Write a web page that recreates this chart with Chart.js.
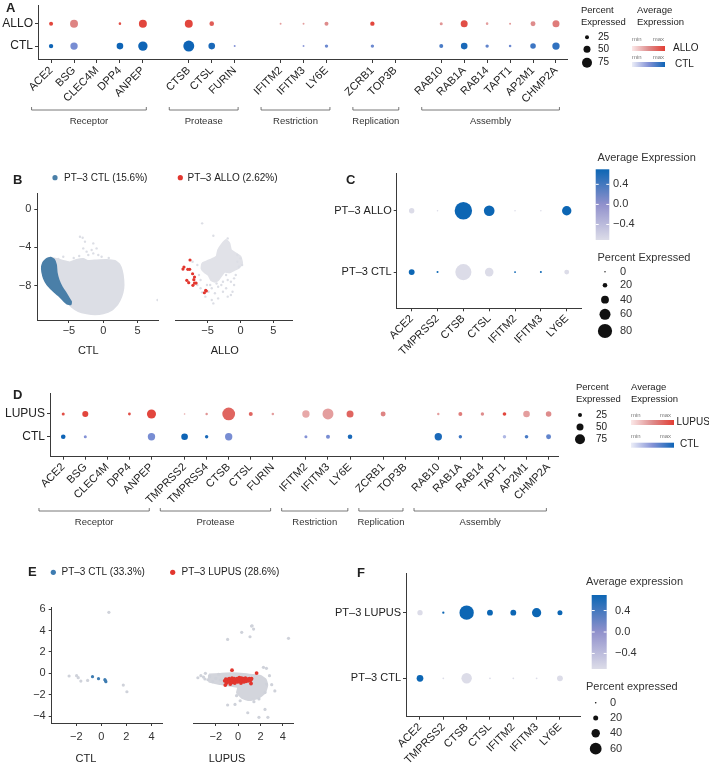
<!DOCTYPE html>
<html lang="en">
<head>
<meta charset="utf-8">
<title>SARS-CoV-2 entry factors</title>
<script src="https://cdn.jsdelivr.net/npm/chart.js"></script>
<style>
  html, body { margin: 0; padding: 0; background: #fff; }
  #fig { position: relative; width: 709px; height: 768px; overflow: hidden; }
  #fig canvas { position: absolute; }
</style>
</head>
<body>
<div id="fig">
  <canvas id="panelA" width="709" height="130" style="left:0px;top:0px"></canvas>
  <canvas id="panelBctl" width="330" height="215" style="left:0px;top:150px"></canvas>
  <canvas id="panelBallo" width="165" height="215" style="left:165px;top:150px"></canvas>
  <canvas id="panelC" width="379" height="225" style="left:330px;top:145px"></canvas>
  <canvas id="panelD" width="709" height="155" style="left:0px;top:380px"></canvas>
  <canvas id="panelEctl" width="330" height="208" style="left:0px;top:560px"></canvas>
  <canvas id="panelElupus" width="160" height="208" style="left:170px;top:560px"></canvas>
  <canvas id="panelF" width="379" height="208" style="left:330px;top:560px"></canvas>
</div>
<script>
// ---------------- data ----------------
const groupNames = ['Receptor', 'Protease', 'Restriction', 'Replication', 'Assembly'];

// A: ALLO vs CTL
const genesA = [
  ['ACE2', 'BSG', 'CLEC4M', 'DPP4', 'ANPEP'],
  ['CTSB', 'CTSL', 'FURIN'],
  ['IFITM2', 'IFITM3', 'LY6E'],
  ['ZCRB1', 'TOP3B'],
  ['RAB10', 'RAB1A', 'RAB14', 'TAPT1', 'AP2M1', 'CHMP2A']
];
// percent expressed (null = no dot) and scaled average expression (0 = min, 1 = max)
const pctA_allo = [25, 58, null, 13, 58, 58, 30, null, 8, 8, 25, 28, null, 17, 50, 13, 8, 33, 50];
const avgA_allo = [0.95, 0.55, null, 0.9, 0.95, 0.95, 0.8, null, 0.4, 0.4, 0.5, 0.95, null, 0.45, 0.9, 0.4, 0.45, 0.5, 0.6];
const pctA_ctl = [28, 53, null, 47, 70, 83, 47, 8, null, 8, 20, 20, null, 25, 47, 20, 13, 38, 53];
const avgA_ctl = [1.0, 0.55, null, 1.0, 1.0, 1.0, 0.95, 0.5, null, 0.45, 0.6, 0.6, null, 0.75, 0.95, 0.65, 0.6, 0.8, 0.85];

// D: LUPUS vs CTL
const genesD = [
  ['ACE2', 'BSG', 'CLEC4M', 'DPP4', 'ANPEP'],
  ['TMPRSS2', 'TMPRSS4', 'CTSB', 'CTSL', 'FURIN'],
  ['IFITM2', 'IFITM3', 'LY6E'],
  ['ZCRB1', 'TOP3B'],
  ['RAB10', 'RAB1A', 'RAB14', 'TAPT1', 'AP2M1', 'CHMP2A']
];
const pctD_lupus = [17, 42, null, 15, 67, 5, 12, 98, 25, 13, 53, 83, 50, 33, null, 12, 25, 20, 22, 47, 38];
const avgD_lupus = [0.9, 0.95, null, 0.9, 0.95, 0.35, 0.45, 0.75, 0.75, 0.4, 0.35, 0.4, 0.75, 0.55, null, 0.4, 0.6, 0.5, 0.95, 0.4, 0.5];
const pctD_ctl = [30, 17, null, null, 53, 47, 20, 53, null, null, 17, 25, 30, null, null, 53, 20, null, 20, 22, 33];
const avgD_ctl = [1.0, 0.5, null, null, 0.55, 1.0, 0.95, 0.55, null, null, 0.5, 0.55, 0.95, null, null, 0.95, 0.8, null, 0.3, 0.75, 0.65];

// C and F: PT-3 cluster
const genesCF = ['ACE2', 'TMPRSS2', 'CTSB', 'CTSL', 'IFITM2', 'IFITM3', 'LY6E'];
const pctC_allo = [25, 1, 100, 58, 1, 1, 50];
const avgC_allo = [-0.71, -0.71, 0.71, 0.71, -0.71, -0.71, 0.71];
const pctC_ctl = [28, 4, 92, 45, 3, 4, 22];
const avgC_ctl = [0.71, 0.71, -0.71, -0.71, 0.71, 0.71, -0.71];
const pctF_lupus = [22, 4, 75, 25, 25, 45, 20];
const avgF_lupus = [-0.71, 0.71, 0.71, 0.71, 0.71, 0.71, 0.71];
const pctF_ctl = [30, 1, 52, 1, 1, 1, 25];
const avgF_ctl = [0.71, -0.71, -0.71, -0.71, -0.71, -0.71, -0.71];
const avgTicks = [0.4, 0.0, -0.4];
const pctLegendAD = [25, 50, 75];
const pctLegendC = [0, 20, 40, 60, 80];
const pctLegendF = [0, 20, 40, 60];

// B: UMAP coordinates
const bTicksX = [-5, 0, 5];
const bTicksY = [0, -4, -8];
const bCtlCloud = [[-8.73,-5.56],[-7.76,-5.07],[-6.79,-5.21],[-5.82,-5.42],[-4.85,-5.56],[-3.88,-5.31],[-2.91,-5.21],[-2.18,-5.42],[-0.97,-5.35],[0.49,-5.31],[1.70,-5.42],[2.33,-5.76],[2.72,-6.46],[2.92,-7.40],[2.92,-8.26],[2.62,-9.13],[2.04,-9.93],[1.22,-10.52],[0.0,-10.87],[-1.21,-10.97],[-2.42,-10.87],[-3.63,-10.63],[-4.60,-10.17],[-5.33,-9.65],[-6.30,-8.96],[-7.27,-8.26],[-8.24,-7.57],[-8.73,-6.88],[-8.92,-6.18]];
const bCtlOther = [[-3.39,-2.88],[-3.00,-2.99],[-2.66,-3.40],[-1.45,-3.58],[-0.97,-4.10],[-1.69,-4.27],[-2.42,-4.44],[-2.18,-4.79],[-1.45,-4.62],[-0.72,-4.79],[-0.24,-4.97],[-2.91,-4.10],[-5.82,-4.97],[-6.55,-5.21],[-4.3,-5.1],[-3.5,-4.9],[0.8,-5.1],[7.9,-9.48]];
const bCtlPT3 = [[-8.73,-5.56],[-8.24,-5.21],[-7.66,-5.07],[-7.18,-5.28],[-6.88,-5.83],[-6.79,-6.60],[-6.50,-7.40],[-6.06,-8.09],[-5.53,-8.68],[-5.09,-9.20],[-4.70,-9.65],[-4.75,-9.93],[-5.24,-9.86],[-5.82,-9.48],[-6.55,-8.96],[-7.37,-8.44],[-8.15,-7.85],[-8.63,-7.22],[-8.87,-6.53],[-8.92,-6.01]];
const bAlloCore = [[-5.82,-5.66],[-4.60,-5.31],[-3.63,-4.97],[-3.39,-4.27],[-2.91,-3.75],[-2.18,-3.23],[-1.69,-3.58],[-1.45,-4.27],[-0.72,-4.62],[0.0,-4.97],[0.25,-5.66],[-0.24,-6.11],[-0.97,-6.35],[-1.69,-6.60],[-2.42,-6.53],[-2.91,-6.94],[-3.39,-7.40],[-3.88,-7.57],[-4.46,-7.40],[-4.85,-6.88],[-5.43,-6.60],[-5.91,-6.18]];
const bAlloOther = [[-9.6,2.1],[-5.82,-1.49],[-4.12,-2.78],[-1.94,-3.06],[-7.27,-5.49],[-6.55,-5.83],[-6.30,-6.88],[-6.06,-7.40],[-6.55,-7.92],[-6.06,-8.26],[-5.82,-8.68],[-5.09,-7.92],[-4.85,-8.61],[-4.36,-8.26],[-3.88,-8.78],[-3.39,-8.09],[-2.91,-7.92],[-2.66,-8.61],[-2.18,-8.26],[-1.94,-7.40],[-1.45,-7.57],[-0.97,-7.92],[-1.21,-8.61],[-0.72,-6.88],[-0.48,-5.49],[-0.24,-6.01],[-4.36,-9.48],[-4.12,-9.83],[-3.39,-9.31],[-1.94,-9.13],[-1.45,-8.96],[-5.33,-9.13],[-4.60,-7.92],[-2.18,-6.88],[-0.97,-7.22],[0.0,-5.14],[-0.48,-4.79],[0.25,-5.83],[-2.66,-7.57],[-3.63,-7.75]];
const bAlloPT3 = [[-7.66,-5.31],[-8.58,-6.04],[-8.73,-6.25],[-8.00,-6.28],[-7.71,-6.28],[-7.27,-6.74],[-6.98,-7.08],[-7.08,-7.36],[-8.15,-7.43],[-7.86,-7.67],[-7.22,-7.95],[-6.98,-7.71],[-6.74,-7.71],[-5.28,-8.47],[-5.48,-8.72],[-5.19,-8.54]];

// E: coordinates
const eTicksX = [-2, 0, 2, 4];
const eTicksY = [6, 4, 2, 0, -2, -4];
const eCtlOther = [[-2.58,-0.25],[-1.98,-0.22],[-1.85,-0.40],[-1.64,-0.72],[-1.10,-0.66],[0.60,5.70],[1.75,-1.10],[2.04,-1.72]];
const eCtlPT3 = [[-0.71,-0.31],[-0.23,-0.50],[0.28,-0.59],[0.36,-0.78],[0.32,-0.68]];
const eLupusBand = [[-2.6,-0.1],[-1.6,-0.05],[-0.5,0.0],[0.5,-0.05],[1.3,-0.15],[2.0,-0.25],[2.45,-0.55],[2.6,-1.1],[2.4,-1.8],[1.8,-2.3],[1.0,-2.5],[0.35,-2.3],[-0.1,-1.8],[0.0,-1.3],[-0.7,-1.15],[-1.6,-1.0],[-2.6,-0.75]];
const eLupusOther = [[-3.6,-0.41],[-3.33,-0.22],[-2.93,0.0],[-2.97,-0.53],[-2.54,-0.31],[-2.27,-0.78],[-2.0,-0.47],[-1.74,-0.09],[-1.6,-0.62],[-3.1,-0.35],[-2.7,-0.6],[1.25,4.45],[1.38,4.14],[1.2,4.42],[1.06,3.42],[0.32,3.83],[-0.94,3.17],[4.5,3.27],[2.26,0.56],[2.53,0.47],[2.8,-0.22],[-0.14,-2.09],[0.18,-2.56],[-0.94,-2.96],[1.41,-2.65],[1.86,-2.39],[2.4,-1.78],[3.28,-1.64],[0.86,-3.68],[2.4,-3.37],[1.86,-4.11],[2.66,-4.11],[2.53,-1.0],[3.0,-1.06],[-0.28,-2.9]];
const eLupusPT3 = [[-1.2,-0.7],[-1.1,-0.55],[-1.05,-0.9],[-1.15,-1.1],[-0.95,-0.6],[-0.9,-0.8],[-0.8,-0.5],[-0.75,-0.75],[-0.7,-1.0],[-0.6,-0.6],[-0.55,-0.45],[-0.5,-0.85],[-0.4,-0.65],[-0.35,-0.5],[-0.3,-0.9],[-0.2,-0.7],[-0.1,-0.5],[-0.05,-0.8],[0.05,-0.6],[0.1,-0.4],[0.15,-0.75],[0.2,-0.55],[0.25,-0.9],[0.3,-0.45],[0.35,-0.65],[0.45,-0.5],[0.5,-0.8],[0.55,-0.6],[0.65,-0.45],[0.7,-0.75],[0.8,-0.55],[0.9,-0.7],[1.0,-0.5],[1.1,-0.65],[1.2,-0.5],[1.15,-0.95],[-0.55,0.3],[1.65,0.03]];

// ---------------- helpers ----------------
const FONT = "'Liberation Sans', Arial, Helvetica, sans-serif";
Chart.defaults.font.family = FONT;
const INK = '#3a3a3a';
const TXT = '#222';

const RED = [[251, 232, 232], [222, 140, 140], [226, 62, 52]];
const BLUE = [[236, 238, 248], [132, 146, 214], [14, 100, 182]];
const GREYBLUE = [[220, 220, 232], [145, 145, 204], [12, 102, 180]];

const rgb = c => `rgb(${c.join(',')})`;
function mix(a, b, t) { return a.map((v, i) => Math.round(v + (b[i] - v) * t)); }
function grad3(stops, t) {
  t = Math.max(0, Math.min(1, t));
  return rgb(t < 0.5 ? mix(stops[0], stops[1], t * 2) : mix(stops[1], stops[2], (t - 0.5) * 2));
}
const colRed = v => grad3(RED, v);
const colBlue = v => grad3(BLUE, v);
const colCF = v => grad3(GREYBLUE, (v + 0.71) / 1.42);

const radiusAD = p => 0.5 + 0.06 * p;
const radiusC = p => 0.7 + 0.08 * p;
const radiusF = p => 0.8 + 0.085 * p;

const minus = v => String(v).replace('-', '\u2212');
const fmt1 = v => minus(v.toFixed(1));

function zeroPad(s) { s.paddingLeft = 0; s.paddingRight = 0; s.paddingTop = 0; s.paddingBottom = 0; }

function text(ctx, s, x, y, size, opt = {}) {
  ctx.font = `${opt.bold ? 'bold ' : ''}${size}px ${FONT}`;
  ctx.fillStyle = opt.color || TXT;
  ctx.textAlign = opt.align || 'left';
  ctx.textBaseline = 'middle';
  ctx.fillText(s, x, y);
}
function disc(ctx, x, y, r, color) {
  ctx.fillStyle = color;
  ctx.beginPath(); ctx.arc(x, y, r, 0, Math.PI * 2); ctx.fill();
}
// draw in page coordinates on top of a chart canvas
function overlay(off, fn) {
  return {
    id: 'overlay',
    afterDraw(chart) {
      const ctx = chart.ctx;
      ctx.save(); ctx.translate(-off[0], -off[1]);
      fn(ctx, chart, off);
      ctx.restore();
    }
  };
}

function groupedPositions(groups, gap) {
  const out = [];
  let x = 0;
  groups.forEach((g, gi) => {
    if (gi > 0) x += gap - 1;
    g.forEach(() => { out.push(x); x += 1; });
  });
  return out;
}

function drawBrackets(ctx, chart, off, groups, pos, y, padL, padR) {
  const xs = chart.scales.x;
  let k = 0;
  ctx.strokeStyle = '#555'; ctx.lineWidth = 0.8;
  groups.forEach((g, gi) => {
    const x0 = xs.getPixelForValue(pos[k] - padL) + off[0];
    const x1 = xs.getPixelForValue(pos[k + g.length - 1] + padR) + off[0];
    k += g.length;
    ctx.beginPath();
    ctx.moveTo(x0, y - 3); ctx.lineTo(x0, y); ctx.lineTo(x1, y); ctx.lineTo(x1, y - 3);
    ctx.stroke();
    text(ctx, groupNames[gi], (x0 + x1) / 2, y + 11, 9.5, { align: 'center', color: '#333' });
  });
}

function hbar(ctx, x0, y0, x1, y1, stops) {
  const g = ctx.createLinearGradient(x0, 0, x1, 0);
  g.addColorStop(0, rgb(stops[0])); g.addColorStop(0.5, rgb(stops[1])); g.addColorStop(1, rgb(stops[2]));
  ctx.fillStyle = g; ctx.fillRect(x0, y0, x1 - x0, y1 - y0);
}

function vbar(ctx, x0, y0, x1, y1, vmin, vmax, labelX) {
  const g = ctx.createLinearGradient(0, y1, 0, y0);
  g.addColorStop(0, rgb(GREYBLUE[0])); g.addColorStop(0.5, rgb(GREYBLUE[1])); g.addColorStop(1, rgb(GREYBLUE[2]));
  ctx.fillStyle = g; ctx.fillRect(x0, y0, x1 - x0, y1 - y0);
  ctx.strokeStyle = '#fff'; ctx.lineWidth = 1;
  avgTicks.forEach(v => {
    const y = y1 - (v - vmin) / (vmax - vmin) * (y1 - y0);
    ctx.beginPath(); ctx.moveTo(x0, y); ctx.lineTo(x0 + 3, y); ctx.moveTo(x1 - 3, y); ctx.lineTo(x1, y); ctx.stroke();
    text(ctx, fmt1(v), labelX, y, 11, { color: '#333' });
  });
}

function axisStyle() {
  return {
    grid: { display: true, drawOnChartArea: false, drawTicks: true, tickLength: 3, color: INK },
    border: { display: true, color: INK, width: 1 }
  };
}

// dot plot (bubble chart), area = [left, top, right, bottom] in page pixels
function dotPanel(id, off, area, o) {
  const cv = document.getElementById(id);
  const W = cv.width, H = cv.height;
  const L = area[0] - off[0], T = area[1] - off[1], R = area[2] - off[0], B = area[3] - off[1];
  const datasets = o.rows.map(row => {
    const data = [], colors = [];
    o.genes.forEach((g, i) => {
      if (row.pct[i] == null) return;
      data.push({ x: o.pos[i], y: row.y, r: o.radius(row.pct[i]) });
      colors.push(row.color(row.avg[i]));
    });
    return { data, backgroundColor: colors, borderWidth: 0, hoverRadius: 0, clip: false };
  });
  const rowName = {};
  o.rows.forEach(r => { rowName[r.y] = r.name; });
  return new Chart(cv, {
    type: 'bubble',
    data: { datasets },
    options: {
      responsive: false, animation: false, devicePixelRatio: 1, events: [],
      layout: { padding: { left: 0, top: T, right: W - R, bottom: 0 } },
      plugins: { legend: { display: false }, tooltip: { enabled: false } },
      scales: {
        x: Object.assign({
          type: 'linear', min: o.xMin, max: o.xMax,
          afterBuildTicks: s => { s.ticks = o.pos.map(v => ({ value: v })); },
          afterFit: s => { s.height = H - B; zeroPad(s); },
          ticks: { autoSkip: false, minRotation: 45, maxRotation: 45, padding: 1,
                   font: { size: 11 }, color: TXT, callback: (v, i) => o.genes[i] }
        }, axisStyle()),
        y: Object.assign({
          type: 'linear', min: o.yMin, max: o.yMax,
          afterBuildTicks: s => { s.ticks = o.rows.map(r => ({ value: r.y })); },
          afterFit: s => { s.width = L; zeroPad(s); },
          ticks: { padding: 2, font: { size: o.rowFont }, color: TXT, callback: v => rowName[v] }
        }, axisStyle())
      }
    },
    plugins: [overlay(off, o.draw)]
  });
}

// scatter panel
function scatterPanel(id, off, area, o) {
  const cv = document.getElementById(id);
  const W = cv.width, H = cv.height;
  const L = area[0] - off[0], T = area[1] - off[1], R = area[2] - off[0], B = area[3] - off[1];
  return new Chart(cv, {
    type: 'scatter',
    data: { datasets: o.datasets },
    options: {
      responsive: false, animation: false, devicePixelRatio: 1, events: [],
      layout: { padding: { left: o.yTicks ? 0 : L, top: T, right: W - R, bottom: 0 } },
      plugins: { legend: { display: false }, tooltip: { enabled: false } },
      scales: {
        x: Object.assign({
          type: 'linear', min: o.x[0], max: o.x[1],
          afterBuildTicks: s => { s.ticks = o.xTicks.map(v => ({ value: v })); },
          afterFit: s => { s.height = H - B; zeroPad(s); },
          ticks: { padding: o.tickPad, maxRotation: 0, font: { size: 11 }, color: '#333', callback: v => minus(v) }
        }, axisStyle()),
        y: Object.assign({
          type: 'linear', display: !!o.yTicks, min: o.y[0], max: o.y[1],
          afterBuildTicks: s => { s.ticks = (o.yTicks || []).map(v => ({ value: v })); },
          afterFit: s => { s.width = L; zeroPad(s); },
          ticks: { padding: 3, font: { size: 11 }, color: '#333', callback: v => minus(v) }
        }, axisStyle())
      }
    },
    plugins: o.draw ? [overlay(off, o.draw)] : []
  });
}

const toPts = arr => arr.map(([x, y]) => ({ x, y }));
function cloud(arr, color, order) {
  return { type: 'line', data: toPts(arr.concat([arr[0]])), fill: 'shape', backgroundColor: color,
           borderColor: color, borderWidth: 2, borderJoinStyle: 'round', pointRadius: 0, tension: 0.12, order };
}
function dots(arr, color, r, order, clip) {
  const d = { data: toPts(arr), backgroundColor: color, borderWidth: 0, pointRadius: r, order };
  if (clip === false) d.clip = false;
  return d;
}

// ---------------- A ----------------
const flatA = genesA.flat();
const posA = groupedPositions(genesA, 2);
dotPanel('panelA', [0, 0], [38, 5, 567, 60], {
  genes: flatA, pos: posA, radius: radiusAD, rowFont: 12,
  xMin: -0.57, xMax: posA[posA.length - 1] + 0.48, yMin: -0.62, yMax: 1.81,
  rows: [
    { name: 'ALLO', y: 1, pct: pctA_allo, avg: avgA_allo, color: colRed },
    { name: 'CTL', y: 0, pct: pctA_ctl, avg: avgA_ctl, color: colBlue }
  ],
  draw: (ctx, chart, off) => {
    text(ctx, 'A', 6, 8, 13, { bold: true });
    drawBrackets(ctx, chart, off, genesA, posA, 110, 0.85, 0.15);
    text(ctx, 'Percent', 581, 10.7, 9.5);
    text(ctx, 'Expressed', 581, 22.3, 9.5);
    [37.3, 49.3, 62.7].forEach((y, i) => {
      disc(ctx, 587, y, radiusAD(pctLegendAD[i]), '#111');
      text(ctx, String(pctLegendAD[i]), 598, y, 10);
    });
    text(ctx, 'Average', 637, 10.7, 9.5);
    text(ctx, 'Expression', 637, 22.3, 9.5);
    text(ctx, 'min', 632, 39.5, 6, { color: '#777' });
    text(ctx, 'max', 664, 39.5, 6, { color: '#777', align: 'right' });
    hbar(ctx, 632, 46, 665, 51, RED);
    text(ctx, 'ALLO', 673, 48.5, 10);
    text(ctx, 'min', 632, 57.5, 6, { color: '#777' });
    text(ctx, 'max', 664, 57.5, 6, { color: '#777', align: 'right' });
    hbar(ctx, 632, 62, 665, 67, BLUE);
    text(ctx, 'CTL', 675, 64.5, 10);
  }
});

// ---------------- B ----------------
const GREY_B = '#dcdee5';
scatterPanel('panelBctl', [0, 150], [37.3, 193, 158, 320], {
  x: [-9.6, 7.97], y: [-11.56, 1.67], xTicks: bTicksX, yTicks: bTicksY, tickPad: 1,
  datasets: [
    cloud(bCtlPT3, '#4a7fa8', 0),
    dots(bCtlOther, GREY_B, 1.2, 1),
    cloud(bCtlCloud, GREY_B, 2)
  ],
  draw: ctx => {
    text(ctx, 'B', 13, 180, 13, { bold: true });
    disc(ctx, 55, 177.7, 2.6, '#4a7fa8');
    text(ctx, 'PT\u20133 CTL (15.6%)', 64, 178, 10);
    disc(ctx, 180.3, 177.7, 2.6, '#e2362e');
    text(ctx, 'PT\u20133 ALLO (2.62%)', 187.5, 178, 10);
    text(ctx, 'CTL', 88.3, 351, 11, { align: 'center' });
    text(ctx, 'ALLO', 224.8, 351, 11, { align: 'center' });
  }
});
scatterPanel('panelBallo', [165, 150], [170, 193, 292, 320], {
  x: [-9.94, 7.82], y: [-11.56, 1.67], xTicks: bTicksX, yTicks: null, tickPad: 1,
  datasets: [
    dots(bAlloPT3, '#e2362e', 1.6, 0),
    dots(bAlloOther, GREY_B, 1.2, 1, false),
    cloud(bAlloCore, '#e1e2e8', 2)
  ]
});

// ---------------- C ----------------
const posCF = genesCF.map((g, i) => i);
dotPanel('panelC', [330, 145], [396.7, 173.3, 581.7, 308.3], {
  genes: genesCF, pos: posCF, radius: radiusC, rowFont: 11,
  xMin: -0.58, xMax: 6.58, yMin: -0.59, yMax: 1.61,
  rows: [
    { name: 'PT\u20133 ALLO', y: 1, pct: pctC_allo, avg: avgC_allo, color: colCF },
    { name: 'PT\u20133 CTL', y: 0, pct: pctC_ctl, avg: avgC_ctl, color: colCF }
  ],
  draw: ctx => {
    text(ctx, 'C', 346, 180, 13, { bold: true });
    text(ctx, 'Average Expression', 597.5, 157.7, 11, { color: '#333' });
    vbar(ctx, 595.7, 169.3, 609.3, 240, -0.71, 0.7, 613);
    text(ctx, 'Percent Expressed', 597.5, 258.3, 11, { color: '#333' });
    [271.7, 285.3, 299.7, 314.3, 331].forEach((y, i) => {
      disc(ctx, 605, y, radiusC(pctLegendC[i]), '#111');
      text(ctx, String(pctLegendC[i]), 620, y, 11, { color: '#333' });
    });
  }
});

// ---------------- D ----------------
const flatD = genesD.flat();
const posD = groupedPositions(genesD, 1.5);
dotPanel('panelD', [0, 380], [50, 393.3, 558.3, 456.7], {
  genes: flatD, pos: posD, radius: radiusAD, rowFont: 12,
  xMin: -0.6, xMax: posD[posD.length - 1] + 0.44, yMin: -0.88, yMax: 1.91,
  rows: [
    { name: 'LUPUS', y: 1, pct: pctD_lupus, avg: avgD_lupus, color: colRed },
    { name: 'CTL', y: 0, pct: pctD_ctl, avg: avgD_ctl, color: colBlue }
  ],
  draw: (ctx, chart, off) => {
    text(ctx, 'D', 13, 395, 13, { bold: true });
    drawBrackets(ctx, chart, off, genesD, posD, 511, 1.1, -0.1);
    text(ctx, 'Percent', 576, 387.7, 9.5);
    text(ctx, 'Expressed', 576, 399.3, 9.5);
    [415, 427, 439.3].forEach((y, i) => {
      disc(ctx, 580, y, radiusAD(pctLegendAD[i]), '#111');
      text(ctx, String(pctLegendAD[i]), 596, y, 10);
    });
    text(ctx, 'Average', 631, 387.5, 9.5);
    text(ctx, 'Expression', 631, 399, 9.5);
    text(ctx, 'min', 631, 415.7, 6, { color: '#777' });
    text(ctx, 'max', 671, 415.7, 6, { color: '#777', align: 'right' });
    hbar(ctx, 631, 420, 674, 425, RED);
    text(ctx, 'LUPUS', 676.5, 422.5, 10);
    text(ctx, 'min', 631, 436.7, 6, { color: '#777' });
    text(ctx, 'max', 671, 436.7, 6, { color: '#777', align: 'right' });
    hbar(ctx, 631, 442.7, 674, 447.7, BLUE);
    text(ctx, 'CTL', 680, 444.5, 10);
  }
});

// ---------------- E ----------------
const GREY_E = '#cfd2da';
scatterPanel('panelEctl', [0, 560], [51.7, 607, 162.7, 723], {
  x: [-3.97, 4.9], y: [-4.64, 6.2], xTicks: eTicksX, yTicks: eTicksY, tickPad: 4,
  datasets: [
    dots(eCtlPT3, '#3e7cb1', 1.6, 0),
    dots(eCtlOther, GREY_E, 1.6, 1)
  ],
  draw: ctx => {
    text(ctx, 'E', 28, 572.7, 13, { bold: true });
    disc(ctx, 53.3, 572.3, 2.6, '#3e7cb1');
    text(ctx, 'PT\u20133 CTL (33.3%)', 61.5, 572.5, 10);
    disc(ctx, 172.7, 572.3, 2.6, '#e2362e');
    text(ctx, 'PT\u20133 LUPUS (28.6%)', 181.5, 572.5, 10);
    text(ctx, 'CTL', 86, 759, 11, { align: 'center' });
    text(ctx, 'LUPUS', 227, 759, 11, { align: 'center' });
  }
});
scatterPanel('panelElupus', [170, 560], [181.7, 607, 293.3, 723], {
  x: [-4.0, 4.93], y: [-4.64, 6.2], xTicks: eTicksX, yTicks: null, tickPad: 4,
  datasets: [
    dots(eLupusPT3, '#e2362e', 1.9, 0),
    dots(eLupusOther, GREY_E, 1.6, 1),
    cloud(eLupusBand, '#d3d5dc', 2)
  ]
});

// ---------------- F ----------------
dotPanel('panelF', [330, 560], [406, 573.3, 580, 716.7], {
  genes: genesCF, pos: posCF, radius: radiusF, rowFont: 11,
  xMin: -0.6, xMax: 6.86, yMin: -0.585, yMax: 1.6,
  rows: [
    { name: 'PT\u20133 LUPUS', y: 1, pct: pctF_lupus, avg: avgF_lupus, color: colCF },
    { name: 'PT\u20133 CTL', y: 0, pct: pctF_ctl, avg: avgF_ctl, color: colCF }
  ],
  draw: ctx => {
    text(ctx, 'F', 357, 573.3, 13, { bold: true });
    text(ctx, 'Average expression', 586, 582.3, 11, { color: '#333' });
    vbar(ctx, 591.7, 595, 606.7, 669, -0.69, 0.69, 615);
    text(ctx, 'Percent expressed', 586, 686.7, 11, { color: '#333' });
    [702.7, 718, 733.3, 748.7].forEach((y, i) => {
      disc(ctx, 595.7, y, radiusF(pctLegendF[i]), '#111');
      text(ctx, String(pctLegendF[i]), 610, y, 11, { color: '#333' });
    });
  }
});
</script>
</body>
</html>
